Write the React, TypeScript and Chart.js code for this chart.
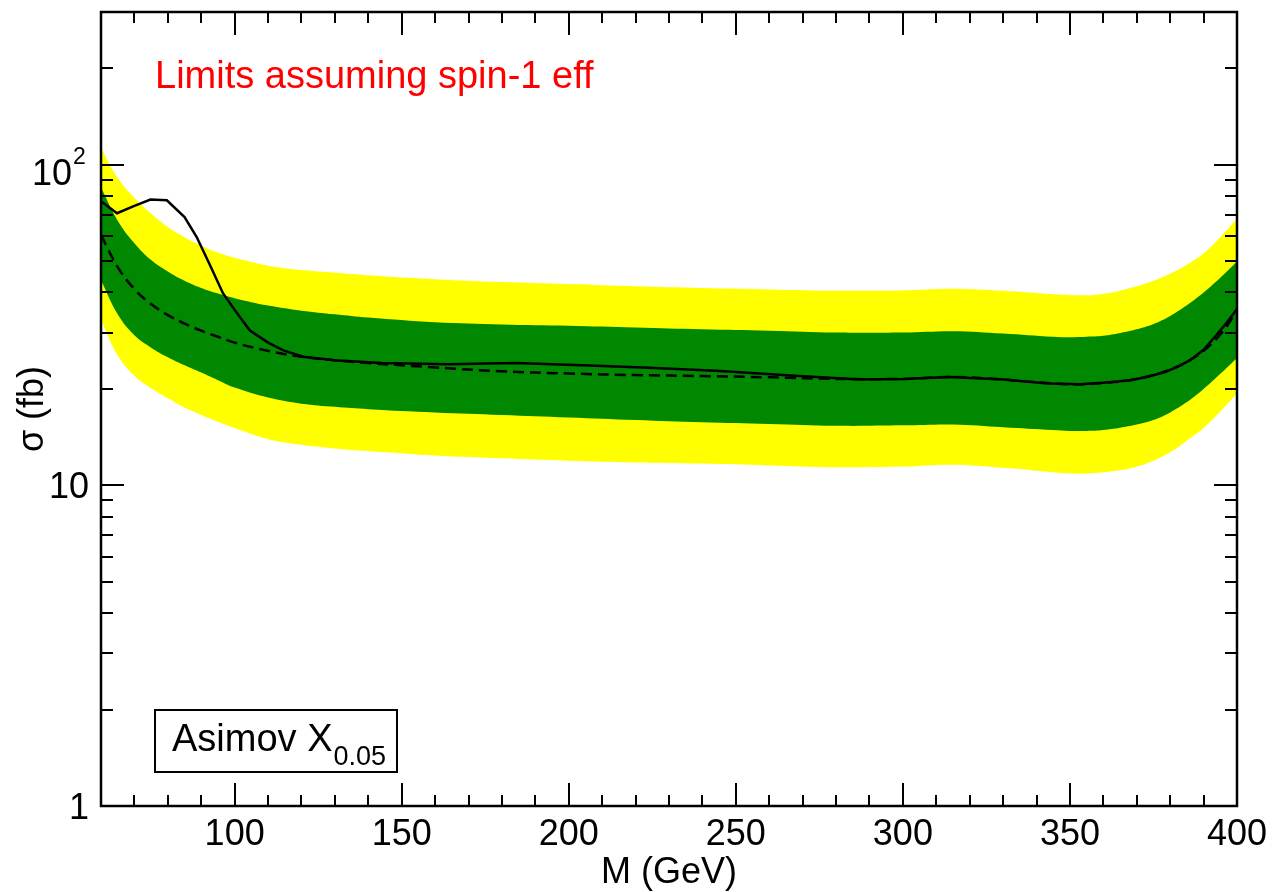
import { useEffect, useRef } from "react";
import { Chart, registerables } from "chart.js";

Chart.register(...registerables);

// ---- data ----
const bandMass = [60, 65, 70, 75, 80, 85, 90, 95, 100, 110, 120, 130, 140, 160, 180, 200, 220, 240, 260, 280, 300, 315, 330, 345, 350, 355, 360, 365, 370, 375, 380, 385, 390, 395, 400];
const yellowUpper = [113, 91, 79, 70.5, 64, 59.5, 56, 53.3, 51.3, 48.5, 47, 46.1, 45.3, 44, 43.1, 42.5, 41.8, 41.3, 40.9, 40.5, 40.6, 41.1, 40.5, 39.5, 39.3, 39.2, 39.6, 40.5, 41.8, 43.5, 45.8, 48.8, 53, 59.5, 68];
const greenUpper = [85, 67, 57, 50.5, 46.5, 43.5, 41.3, 39.7, 38.4, 36.4, 35.1, 34.2, 33.4, 32.3, 31.8, 31.5, 31.1, 30.7, 30.4, 30.0, 30.0, 30.3, 29.8, 29.1, 29.0, 29.1, 29.3, 29.9, 30.7, 31.9, 33.8, 36.5, 40, 44.5, 50];
const expected = [60.4, 48, 41, 36.8, 34, 32, 30.4, 29.1, 27.9, 26.3, 25.2, 24.6, 24.1, 23.35, 22.7, 22.35, 22.1, 21.95, 21.75, 21.5, 21.5, 21.8, 21.4, 20.8, 20.7, 20.7, 20.9, 21.1, 21.5, 22.1, 23.0, 24.3, 26.3, 29.6, 35];
const greenLower = [43.7, 34.2, 29.4, 26.9, 25.1, 23.7, 22.5, 21.3, 20.2, 18.8, 18.0, 17.6, 17.3, 16.9, 16.6, 16.3, 16.0, 15.75, 15.55, 15.35, 15.4, 15.5, 15.2, 14.9, 14.8, 14.8, 14.9, 15.15, 15.5, 16.0, 16.9, 18.2, 20, 22.3, 25];
const yellowLower = [32.8, 25.4, 22.0, 20.1, 18.7, 17.5, 16.6, 15.8, 15.1, 13.95, 13.4, 13.05, 12.8, 12.4, 12.15, 11.95, 11.8, 11.7, 11.55, 11.4, 11.45, 11.6, 11.35, 11.0, 10.9, 10.9, 11.0, 11.15, 11.45, 11.95, 12.7, 13.8, 15.1, 17.0, 19.4];

const obsMass = [60, 64.8, 70, 74.8, 79.7, 85, 88.6, 92.5, 96.5, 100, 104.5, 110, 114.6, 120.5, 130, 144, 164, 184, 204, 224, 244, 264, 287, 300, 314, 330, 343.5, 353, 360, 368, 373, 378.5, 382, 386, 390, 393.4, 396.5, 400];
const observed = [77, 70.7, 74.5, 78, 77.6, 68.8, 59.7, 49, 39.8, 35.3, 30.5, 27.9, 26.4, 25.2, 24.6, 24.1, 23.9, 24.1, 23.7, 23.3, 22.8, 22.1, 21.4, 21.5, 21.8, 21.4, 20.8, 20.7, 20.9, 21.3, 21.8, 22.6, 23.4, 24.6, 26.5, 29.1, 31.8, 35.5];

const xTickLabels = [100, 150, 200, 250, 300, 350, 400];
const yMajorTicks = [1, 10, 100];
const yTickLabels = ["1", "10", "10|2"];

const xMin = 60;
const xMax = 400;
const yMin = 1;
const yMax = 300;

const FONT = '"Liberation Sans", Arial, Helvetica, sans-serif';

const pts = (xs: number[], ys: number[]) => xs.map((x, i) => ({ x, y: ys[i] }));

const framePlugin = {
  id: "frame",
  afterDraw(chart: any) {
    const { ctx, chartArea } = chart;
    const xs = chart.scales.x;
    const ys = chart.scales.y;
    const { left, right, top, bottom } = chartArea;
    ctx.save();
    ctx.strokeStyle = "#000";
    ctx.fillStyle = "#000";

    // ticks
    ctx.lineWidth = 2;
    ctx.beginPath();
    for (let v = 70; v < xMax; v += 10) {
      const px = Math.round(xs.getPixelForValue(v));
      const len = v % 50 === 0 ? 23 : 11;
      ctx.moveTo(px, bottom);
      ctx.lineTo(px, bottom - len);
      ctx.moveTo(px, top);
      ctx.lineTo(px, top + len);
    }
    const yTicks: number[] = [];
    for (let d = 1; d <= 100; d *= 10) {
      for (let m = 1; m <= 9; m++) {
        const v = d * m;
        if (v > yMin && v < yMax) yTicks.push(v);
      }
    }
    for (const v of yTicks) {
      const py = Math.round(ys.getPixelForValue(v));
      const len = yMajorTicks.includes(v) ? 23 : 12;
      ctx.moveTo(left, py);
      ctx.lineTo(left + len, py);
      ctx.moveTo(right, py);
      ctx.lineTo(right - len, py);
    }
    ctx.stroke();

    // frame
    ctx.lineWidth = 2.5;
    ctx.strokeRect(left, top, right - left, bottom - top);

    // x tick labels
    ctx.font = `36px ${FONT}`;
    ctx.textAlign = "center";
    ctx.textBaseline = "alphabetic";
    for (const v of xTickLabels) {
      ctx.fillText(String(v), xs.getPixelForValue(v), bottom + 39);
    }
    // x title
    ctx.fillText("M (GeV)", (left + right) / 2, bottom + 77);

    // y tick labels
    yMajorTicks.forEach((v, i) => {
      const py = ys.getPixelForValue(v);
      const lab = yTickLabels[i];
      if (lab.includes("|")) {
        const [base, exp] = lab.split("|");
        ctx.font = `36px ${FONT}`;
        ctx.textAlign = "right";
        ctx.fillText(base, 72, py + 20);
        ctx.font = `23px ${FONT}`;
        ctx.textAlign = "left";
        ctx.fillText(exp, 73, py - 1);
      } else {
        ctx.font = `36px ${FONT}`;
        ctx.textAlign = "right";
        ctx.fillText(lab, 89, py + 13);
      }
    });

    // y title
    ctx.save();
    ctx.translate(43, 409);
    ctx.rotate(-Math.PI / 2);
    ctx.font = `36px ${FONT}`;
    ctx.textAlign = "center";
    ctx.fillText("\u03c3 (fb)", 0, 0);
    ctx.restore();

    // red annotation
    ctx.font = `38px ${FONT}`;
    ctx.textAlign = "left";
    ctx.fillStyle = "#ff0000";
    ctx.fillText("Limits assuming spin-1 eff", 155, 88);

    // Asimov box
    ctx.fillStyle = "#000";
    ctx.lineWidth = 2;
    ctx.strokeRect(155, 710, 242, 62);
    ctx.font = `38px ${FONT}`;
    const main = "Asimov X";
    ctx.fillText(main, 172, 751);
    const w = ctx.measureText(main).width;
    ctx.font = `27px ${FONT}`;
    ctx.fillText("0.05", 172 + w + 1, 765);

    ctx.restore();
  },
};

export default function App() {
  const ref = useRef<HTMLCanvasElement | null>(null);

  useEffect(() => {
    if (!ref.current) return;
    const band = { borderWidth: 0, pointRadius: 0, borderColor: "rgba(0,0,0,0)", tension: 0.4 };
    const chart = new Chart(ref.current, {
      type: "line",
      data: {
        datasets: [
          { label: "2 sigma up", data: pts(bandMass, yellowUpper), ...band, backgroundColor: "#ffff00", fill: "+1", order: 4 },
          { label: "2 sigma down", data: pts(bandMass, yellowLower), ...band, fill: false, order: 4 },
          { label: "1 sigma up", data: pts(bandMass, greenUpper), ...band, backgroundColor: "#008800", fill: "+1", order: 3 },
          { label: "1 sigma down", data: pts(bandMass, greenLower), ...band, fill: false, order: 3 },
          {
            label: "expected",
            data: pts(bandMass, expected),
            borderWidth: 2.5,
            borderColor: "#000",
            borderDash: [11, 6],
            pointRadius: 0,
            fill: false,
            tension: 0.4,
            order: 2,
          },
          {
            label: "observed",
            data: pts(obsMass, observed),
            borderWidth: 2.5,
            borderColor: "#000",
            pointRadius: 0,
            fill: false,
            tension: 0,
            order: 1,
          },
        ],
      },
      options: {
        responsive: false,
        animation: false,
        devicePixelRatio: 1,
        layout: { padding: { left: 101, right: 37, top: 12, bottom: 86 } },
        plugins: {
          legend: { display: false },
          tooltip: { enabled: false },
        },
        scales: {
          x: { type: "linear", min: xMin, max: xMax, display: false },
          y: { type: "logarithmic", min: yMin, max: yMax, display: false },
        },
      },
      plugins: [framePlugin],
    });
    return () => chart.destroy();
  }, []);

  return (
    <div style={{ position: "absolute", left: 0, top: 0, width: 1274, height: 892, background: "#fff" }}>
      <canvas ref={ref} width={1274} height={892} style={{ display: "block" }} />
    </div>
  );
}
